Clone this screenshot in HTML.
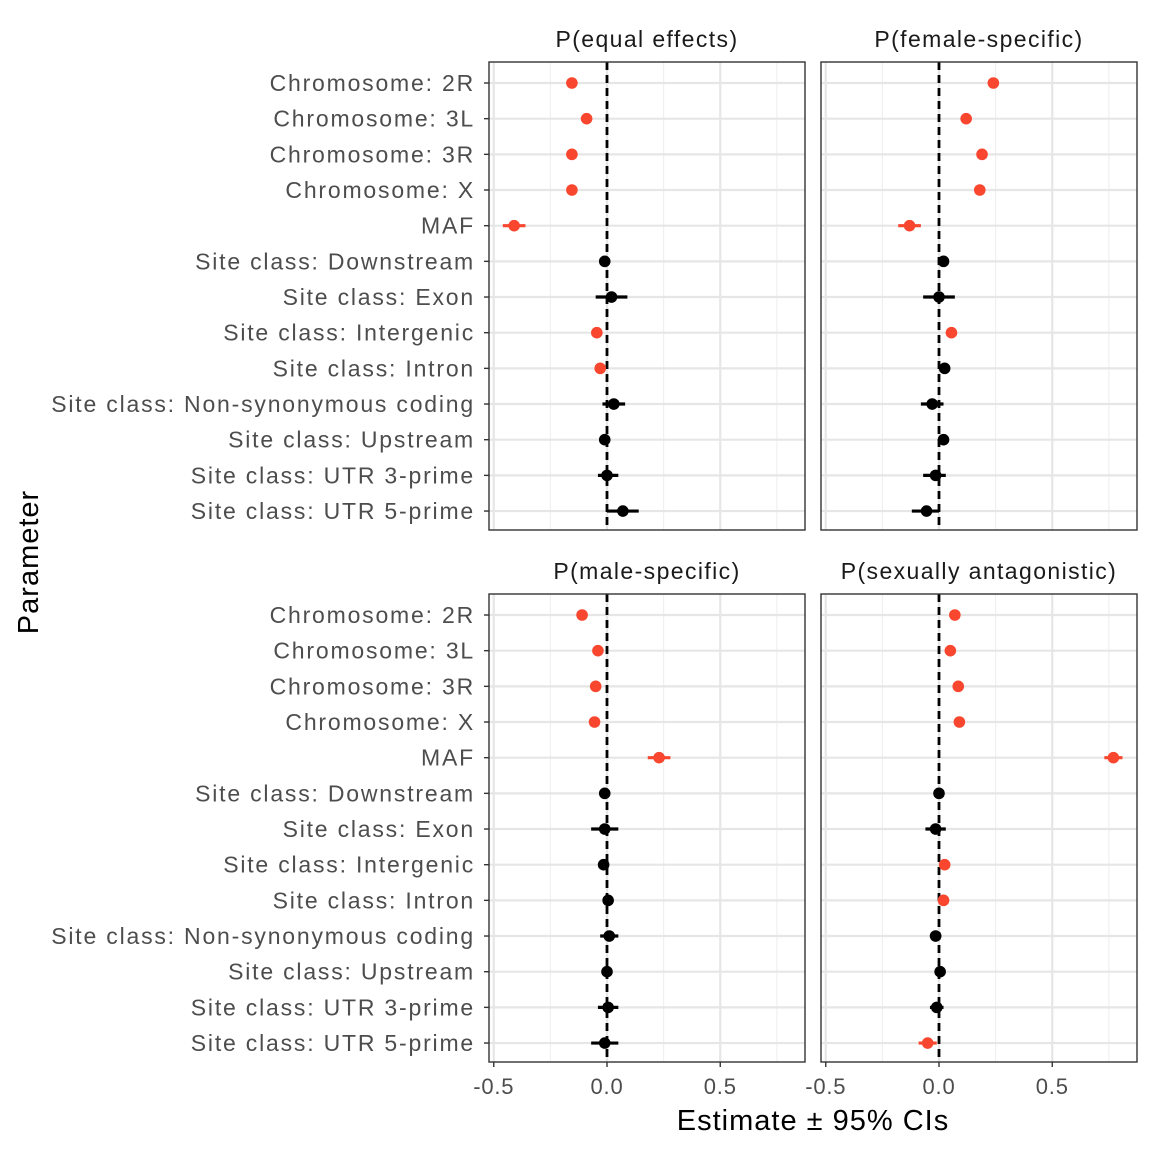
<!DOCTYPE html>
<html><head><meta charset="utf-8"><style>
html,body{margin:0;padding:0;background:#fff;}
svg{display:block;font-family:"Liberation Sans",sans-serif;}
</style></head><body>
<svg id="chart" width="1152" height="1152" viewBox="0 0 1152 1152" xmlns="http://www.w3.org/2000/svg"></svg>
<script>
const categories=["Chromosome: 2R","Chromosome: 3L","Chromosome: 3R","Chromosome: X","MAF","Site class: Downstream","Site class: Exon","Site class: Intergenic","Site class: Intron","Site class: Non-synonymous coding","Site class: Upstream","Site class: UTR 3-prime","Site class: UTR 5-prime"];
const panelTitles=["P(equal effects)","P(female-specific)","P(male-specific)","P(sexually antagonistic)"];
const xTicks=[-0.5,0,0.5];
const xTickLabels=["-0.5","0.0","0.5"];
const xMinor=[-0.25,0.25,0.75];
const estEqual=[-0.155,-0.09,-0.155,-0.155,-0.41,-0.01,0.02,-0.045,-0.03,0.03,-0.01,0.0,0.07];
const loEqual=[-0.17,-0.105,-0.17,-0.17,-0.46,-0.03,-0.05,-0.06,-0.045,-0.02,-0.03,-0.04,0.0];
const hiEqual=[-0.14,-0.075,-0.14,-0.14,-0.36,0.01,0.09,-0.03,-0.015,0.08,0.01,0.05,0.14];
const sigEqual=[1,1,1,1,1,0,0,1,1,0,0,0,0];
const estFemale=[0.24,0.12,0.19,0.18,-0.13,0.02,0.0,0.055,0.025,-0.03,0.02,-0.015,-0.055];
const loFemale=[0.225,0.105,0.175,0.165,-0.18,0.0,-0.07,0.04,0.01,-0.08,0.0,-0.07,-0.12];
const hiFemale=[0.255,0.135,0.205,0.195,-0.08,0.04,0.07,0.07,0.04,0.02,0.04,0.03,0.0];
const sigFemale=[1,1,1,1,1,0,0,1,0,0,0,0,0];
const estMale=[-0.11,-0.04,-0.05,-0.055,0.23,-0.01,-0.01,-0.015,0.005,0.01,0.0,0.005,-0.01];
const loMale=[-0.125,-0.055,-0.065,-0.07,0.18,-0.03,-0.07,-0.03,-0.01,-0.03,-0.02,-0.04,-0.07];
const hiMale=[-0.095,-0.025,-0.035,-0.04,0.28,0.01,0.05,0.0,0.02,0.05,0.02,0.05,0.05];
const sigMale=[1,1,1,1,1,0,0,0,0,0,0,0,0];
const estSA=[0.07,0.05,0.085,0.09,0.77,0.0,-0.015,0.025,0.02,-0.015,0.005,-0.01,-0.05];
const loSA=[0.055,0.035,0.07,0.075,0.73,-0.015,-0.06,0.01,0.005,-0.04,-0.01,-0.04,-0.09];
const hiSA=[0.085,0.065,0.1,0.105,0.81,0.015,0.03,0.04,0.035,0.01,0.02,0.02,-0.01];
const sigSA=[1,1,1,1,1,0,0,1,1,0,0,0,1];

const NS="http://www.w3.org/2000/svg";
const svg=document.getElementById("chart");
function mk(tag,attrs,parent){const e=document.createElementNS(NS,tag);for(const k in attrs)e.setAttribute(k,attrs[k]);(parent||svg).appendChild(e);return e;}
const panels=[
 {x0:489,y0:62,est:estEqual,lo:loEqual,hi:hiEqual,sig:sigEqual,yl:true,xl:false},
 {x0:821,y0:62,est:estFemale,lo:loFemale,hi:hiFemale,sig:sigFemale,yl:false,xl:false},
 {x0:489,y0:594,est:estMale,lo:loMale,hi:hiMale,sig:sigMale,yl:true,xl:true},
 {x0:821,y0:594,est:estSA,lo:loSA,hi:hiSA,sig:sigSA,yl:false,xl:true}];
const W=316,H=468,zeroOff=118,scale=226.5;
panels.forEach((p,pi)=>{
 const g=mk("g",{});
 
 
 const xs=v=>p.x0+zeroOff+v*scale;
 const ys=i=>p.y0+21+i*35.67;
 xMinor.forEach(v=>{const l=mk("line",{x1:xs(v),x2:xs(v),y1:p.y0,y2:p.y0+H,stroke:"#f0f0f0","stroke-width":1.2},g);});
 xTicks.forEach(v=>{const l=mk("line",{x1:xs(v),x2:xs(v),y1:p.y0,y2:p.y0+H,stroke:"#e6e6e6","stroke-width":2.2},g);});
 categories.forEach((c,i)=>{const l=mk("line",{x1:p.x0,x2:p.x0+W,y1:ys(i),y2:ys(i),stroke:"#e6e6e6","stroke-width":2.2},g);});
 const z=mk("line",{x1:xs(0),x2:xs(0),y1:p.y0,y2:p.y0+H,stroke:"#000","stroke-width":2.8,"stroke-dasharray":"8,5"},g);
 
 categories.forEach((c,i)=>{
  const col=p.sig[i]?"#F8462F":"#000";
  const e=mk("line",{x1:xs(p.lo[i]),x2:xs(p.hi[i]),y1:ys(i),y2:ys(i),stroke:col,"stroke-width":3.2},g);
  
  const d=mk("circle",{cx:xs(p.est[i]),cy:ys(i),r:5.8,fill:col},g);
  
 });
 const b=mk("rect",{x:p.x0,y:p.y0,width:W,height:H,fill:"none",stroke:"#333","stroke-width":1.4},g);
 
 const t=mk("text",{x:p.x0+W/2,y:p.y0-15,"text-anchor":"middle","font-size":23,"letter-spacing":"1.4px",fill:"#1a1a1a"},g);
 t.textContent=panelTitles[pi];
 
 if(p.yl){categories.forEach((c,i)=>{
  mk("line",{x1:p.x0-5,x2:p.x0,y1:ys(i),y2:ys(i),stroke:"#333","stroke-width":1.4},g);
  const tl=mk("text",{x:p.x0-14,y:ys(i)+8,"text-anchor":"end","font-size":23,"letter-spacing":"1.8px",fill:"#4d4d4d"},g);
  tl.textContent=c;});}
 if(p.xl){xTicks.forEach((v,k)=>{
  mk("line",{x1:xs(v),x2:xs(v),y1:p.y0+H,y2:p.y0+H+5,stroke:"#333","stroke-width":1.4},g);
  const tl=mk("text",{x:xs(v),y:p.y0+H+32,"text-anchor":"middle","font-size":22,"letter-spacing":"0.8px",fill:"#4d4d4d"},g);
  tl.textContent=xTickLabels[k];});}
});
const xt=mk("text",{x:813,y:1130,"text-anchor":"middle","font-size":29,"letter-spacing":"1px",fill:"#000"});
xt.textContent="Estimate ± 95% CIs";
const yt=mk("text",{x:38,y:562,"text-anchor":"middle","font-size":29,"letter-spacing":"1px",fill:"#000",transform:"rotate(-90 38 562)"});
yt.textContent="Parameter";
</script>
</body></html>
